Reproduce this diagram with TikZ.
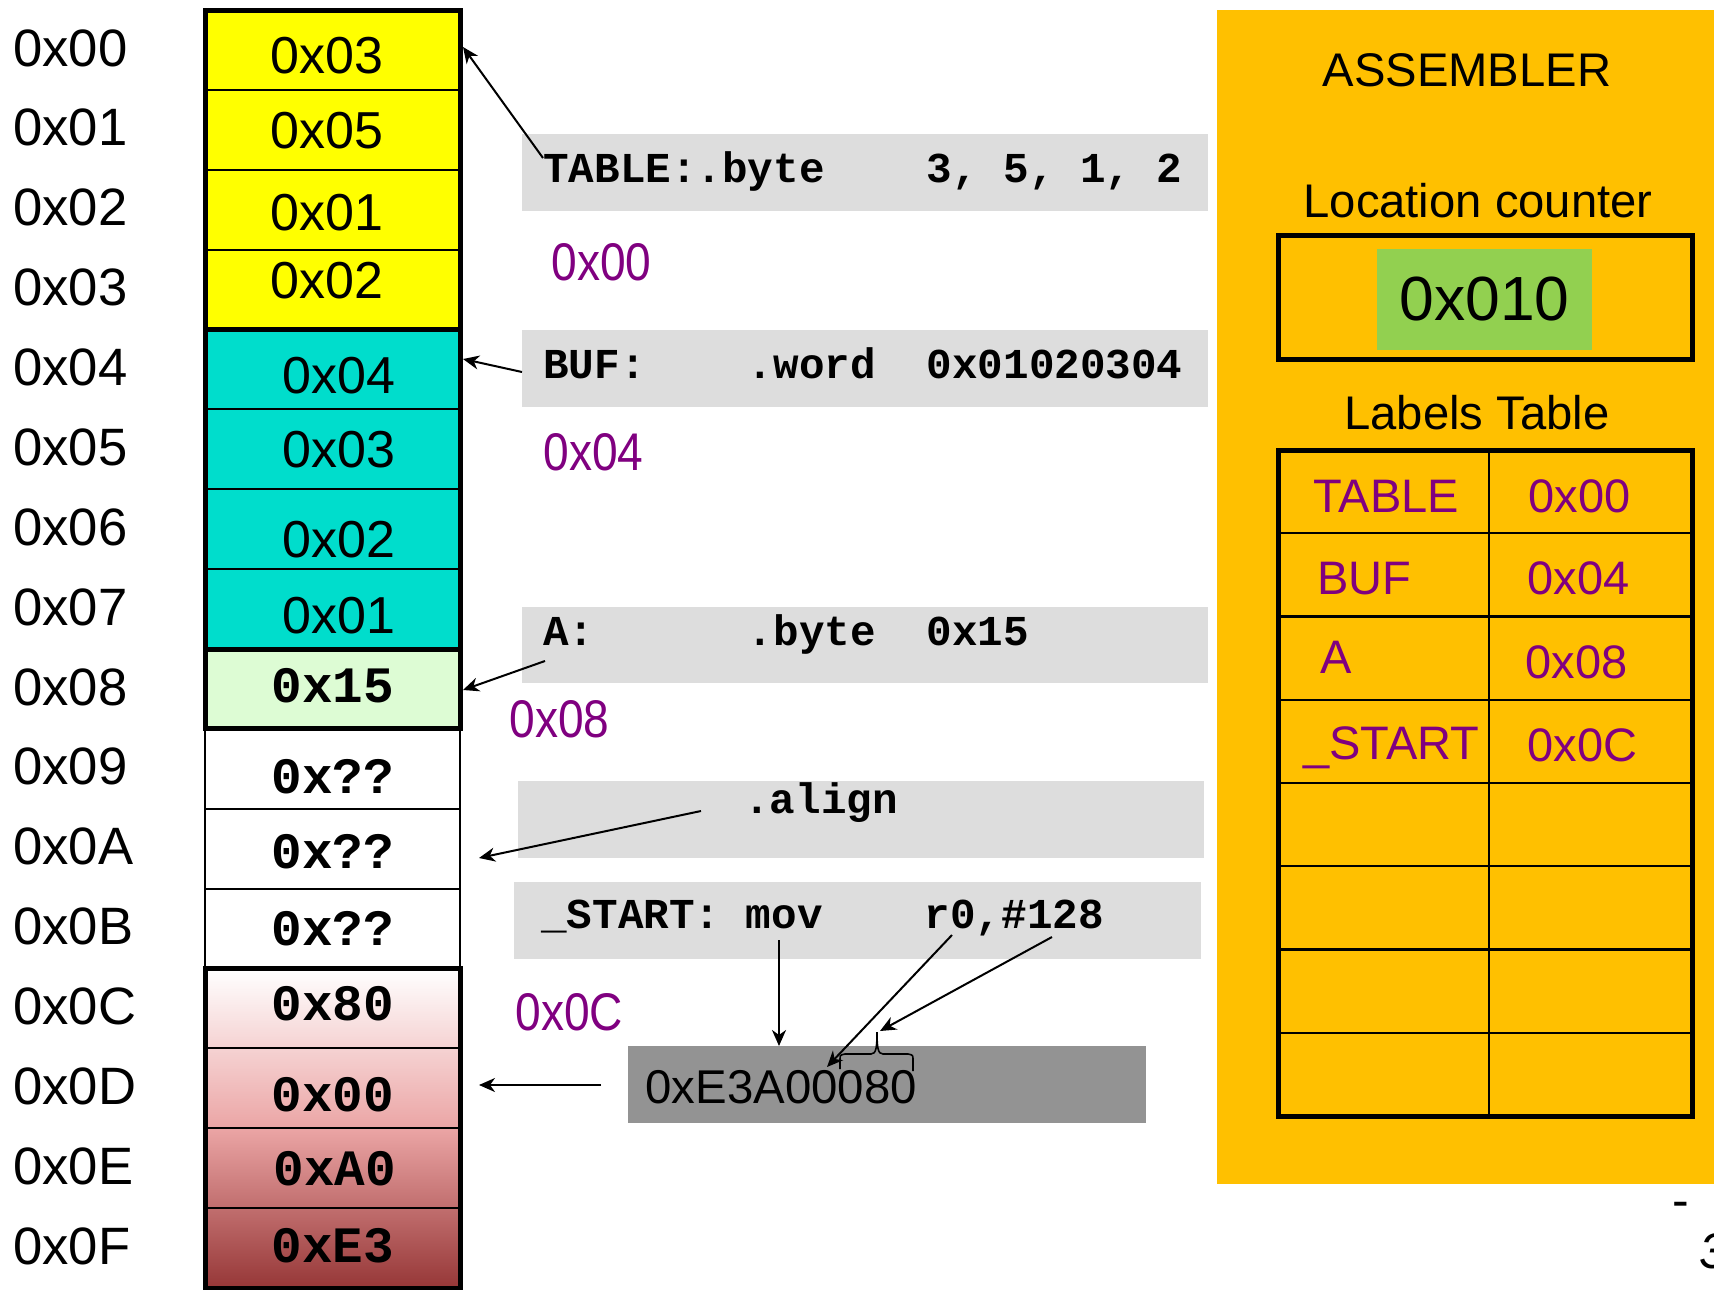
\documentclass[tikz,border=0pt]{standalone}
\usepackage{fontspec}
\setmainfont{Liberation Sans}
\newfontfamily\cour{Liberation Mono}
\newfontfamily\narrowf[FakeStretch=0.87]{Liberation Sans}
\usetikzlibrary{arrows.meta}
\definecolor{lpurple}{RGB}{128,0,128}
\definecolor{memyellow}{RGB}{255,255,0}
\definecolor{memcyan}{RGB}{0,221,204}
\definecolor{memgreen}{RGB}{221,252,212}
\definecolor{codegray}{RGB}{221,221,221}
\definecolor{boxgray}{RGB}{147,147,147}
\definecolor{asmorange}{RGB}{255,192,0}
\definecolor{lcgreen}{RGB}{146,208,80}
\definecolor{redmid}{RGB}{235,165,165}
\definecolor{redbot}{RGB}{150,55,55}
\begin{document}
\begin{tikzpicture}[x=0.5pt,y=-0.5pt,
  rectpx/.style 2 args={minimum width={#1*0.5pt}, minimum height={#2*0.5pt}},
  cell/.style={draw, line width=1pt, rectpx={255}{79.875}, inner sep=0},
  grp/.style={draw, line width=2.5pt, inner sep=0},
  addr/.style={font=\fontsize{26.3}{30}\selectfont, anchor=base west, inner sep=0},
  val/.style={font=\fontsize{26}{30}\selectfont, anchor=base, inner sep=0},
  cval/.style={font=\cour\bfseries\fontsize{25.5}{30}\selectfont, anchor=base, inner sep=0},
  code/.style={font=\cour\bfseries\fontsize{21.3}{25}\selectfont, anchor=base west, inner sep=0},
  codebox/.style={fill=codegray, inner sep=0},
  paddr/.style={font=\narrowf\fontsize{26.5}{30}\selectfont, text=lpurple, anchor=base west, inner sep=0},
  ttl/.style={font=\fontsize{23.6}{28}\selectfont, anchor=base, inner sep=0},
  tent/.style={font=\fontsize{23.5}{28}\selectfont, text=lpurple, anchor=base west, inner sep=0},
  arr/.style={-{Stealth[length=8pt,width=7pt,inset=2.5pt]}, line width=1pt},
]
\useasboundingbox (0,0) rectangle (1714,1290);

% ---------- address labels ----------
\foreach \i/\t in {0/00,1/01,2/02,3/03,4/04,5/05,6/06,7/07,8/08,9/09,10/0A,11/0B,12/0C,13/0D,14/0E,15/0F}
  \node[addr] (a\i) at (13,{66+79.875*\i}) {0x\t};

% ---------- memory column ----------
\shade[top color=white, bottom color=redbot, middle color=redmid] (205,968.5) rectangle (460,1288);
\foreach \i/\c in {0/memyellow,1/memyellow,2/memyellow,3/memyellow,4/memcyan,5/memcyan,6/memcyan,7/memcyan,8/memgreen,9/white,10/white,11/white,12/none,13/none,14/none,15/none}
  \node[cell, fill=\c] (m\i) at (332.5,{10+79.875*(\i+0.5)}) {};
\node[grp, rectpx={255}{319.5}] (gyel) at (332.5,169.75) {};
\node[grp, rectpx={255}{319.5}] (gcyan) at (332.5,489.25) {};
\node[grp, rectpx={255}{79.875}] (ggreen) at (332.5,688.94) {};
\node[grp, rectpx={255}{319.5}] (gred) at (332.5,1128.25) {};

\foreach \i/\x/\y/\t in {0/327/73/0x03,1/327/148/0x05,2/327/230/0x01,3/327/298/0x02,4/339/393/0x04,5/339/467/0x03,6/339/557/0x02,7/339/633/0x01}
  \node[val] (v\i) at (\x,\y) {\t};
\foreach \i/\x/\y/\t in {8/333/702/0x15,9/333/793/0x??,10/333/868/0x??,11/333/945/0x??,12/333/1020/0x80,13/333/1111/0x00,14/335/1185/0xA0,15/333/1262/0xE3}
  \node[cval] (v\i) at (\x,\y) {\t};

% ---------- code lines ----------
\node[codebox, rectpx={686}{77}] (b1) at (865,172.5) {};
\node[codebox, rectpx={686}{77}] (b2) at (865,368.5) {};
\node[codebox, rectpx={686}{76}] (b3) at (865,645) {};
\node[codebox, rectpx={686}{77}] (b4) at (861,819.5) {};
\node[codebox, rectpx={687}{77}] (b5) at (857.5,920.5) {};
\node[fill=boxgray, inner sep=0, rectpx={518}{77}] (b6) at (887,1084.5) {};

\node[code] (c1) at (543,182) {TABLE:.byte\ \ \ \ 3,\ 5,\ 1,\ 2};
\node[code] (c2) at (543,378) {BUF:\ \ \ \ .word\ \ 0x01020304};
\node[code] (c3) at (543,645) {A:\ \ \ \ \ \ .byte\ \ 0x15};
\node[code] (c4) at (744,813) {.align};
\node[code] (c5) at (541,928) {\_START:\ mov\ \ \ \ r0,\#128};
\node[font=\fontsize{23.7}{28}\selectfont, anchor=base west, inner sep=0] (c6) at (645,1103) {0xE3A00080};

% ---------- purple addresses ----------
\node[paddr] (p1) at (551,280) {0x00};
\node[paddr] (p2) at (543,470) {0x04};
\node[paddr] (p3) at (509,737) {0x08};
\node[paddr] (p4) at (515,1030) {0x0C};

% ---------- assembler panel ----------
\node[fill=asmorange, inner sep=0, rectpx={504}{1174}] (panel) at (1469,597) {};
\node[ttl] (t1) at (1467,86) {ASSEMBLER};
\node[ttl] (t2) at (1478,217) {Location counter};
\node[draw, line width=2.5pt, inner sep=0, rectpx={414}{124}] (lcbox) at (1485,297) {};
\node[fill=lcgreen, inner sep=0, rectpx={215}{101}, font=\fontsize{31.2}{36}\selectfont] (lcval) at (1484.5,299.5) {0x010};
\node[ttl] (t3) at (1477,429) {Labels Table};
\node[draw, line width=2.5pt, inner sep=0, rectpx={414}{666}] (ltab) at (1485,783) {};
\foreach \k in {1,...,7}
  \draw[line width=1.1pt] (1278,{450+83.25*\k}) -- (1692,{450+83.25*\k});
\draw[line width=1.4pt] (1489,450) -- (1489,1116);
\node[tent] (e1) at (1313,512) {TABLE};
\node[tent] (f1) at (1528,512) {0x00};
\node[tent] (e2) at (1317,594) {BUF};
\node[tent] (f2) at (1527,594) {0x04};
\node[tent] (e3) at (1320,673) {A};
\node[tent] (f3) at (1525,678) {0x08};
\node[tent] (e4) at (1303,759) {\_START};
\node[tent] (f4) at (1527,761) {0x0C};

% ---------- page mark ----------
\node[font=\fontsize{25}{30}\selectfont, anchor=base west, inner sep=0] (pgdash) at (1672,1217) {-};
\node[font=\itshape\fontsize{25}{30}\selectfont, anchor=base west, inner sep=0] (pgnum) at (1699,1268) {3};

% ---------- brace ----------
\draw[line width=0.8pt] (840,1069) -- (840,1060) .. controls (840,1055) .. (845,1054) -- (871,1054)
  .. controls (876,1054) and (877,1048) .. (877,1032)
  .. controls (877,1048) and (878,1054) .. (883,1054) -- (908,1054)
  .. controls (913,1055) .. (913,1060) -- (913,1071);

% ---------- arrows ----------
\coordinate (tblS) at (543,158);  \coordinate (tblT) at (463,47);
\coordinate (bufS) at (522,372);  \coordinate (bufT) at (463,359);
\coordinate (aS) at (545,661);    \coordinate (aT) at (463,690);
\coordinate (alS) at (701,811);   \coordinate (alT) at (479,858);
\coordinate (hxS) at (601,1085);  \coordinate (hxT) at (479,1085);
\coordinate (movS) at (779,940);  \coordinate (movT) at (779,1046);
\coordinate (r0S) at (952,935);   \coordinate (r0T) at (827,1067);
\coordinate (imS) at (1052,937);  \coordinate (imT) at (880,1031);
\draw[arr] (tblS) -- (tblT);
\draw[arr] (bufS) -- (bufT);
\draw[arr] (aS) -- (aT);
\draw[arr] (alS) -- (alT);
\draw[arr] (hxS) -- (hxT);
\draw[arr] (movS) -- (movT);
\draw[arr] (r0S) -- (r0T);
\draw[arr] (imS) -- (imT);
\end{tikzpicture}
\end{document}
